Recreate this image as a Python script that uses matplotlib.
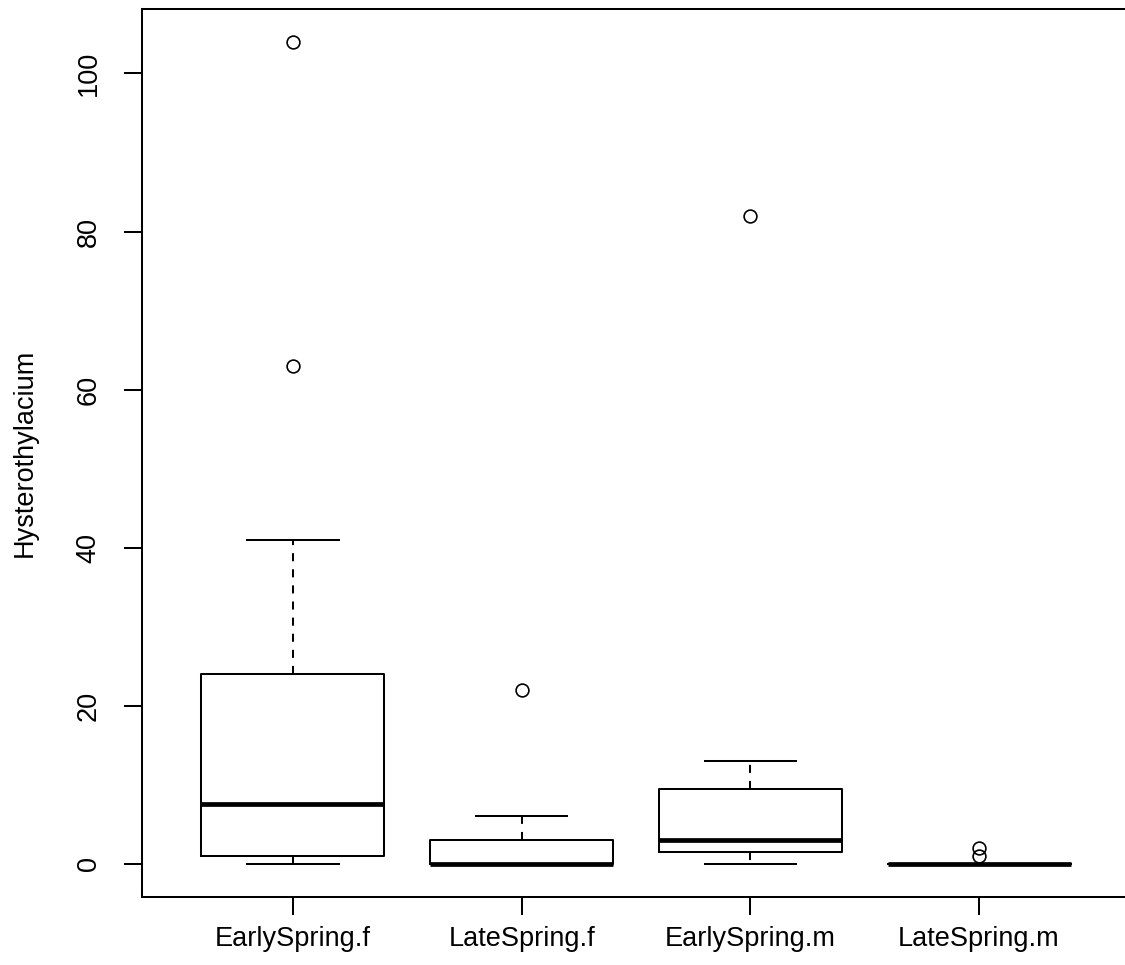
import matplotlib
matplotlib.use("Agg")
import matplotlib.pyplot as plt

categories = ['EarlySpring.f', 'LateSpring.f', 'EarlySpring.m', 'LateSpring.m']
whislo = [0, 0, 0, 0]
q1 = [1, 0, 1.5, 0]
med = [7.5, 0, 3, 0]
q3 = [24, 3, 9.5, 0]
whishi = [41, 6, 13, 0]
fliers = [[63, 104], [22], [82], [1, 2]]
yticks = [0, 20, 40, 60, 80, 100]
ylabel = 'Hysterothylacium'

plt.rcParams['font.family'] = ['Liberation Sans', 'DejaVu Sans']

W, H = 1125, 965
fig = plt.figure(figsize=(W / 100, H / 100), dpi=100)
left, right, top, bottom = 142, 1130, 9, 896.5
ax = fig.add_axes([left / W, (H - bottom) / H, (right - left) / W, (bottom - top) / H])

stats = []
for i, c in enumerate(categories):
    stats.append(dict(label=c, whislo=whislo[i], q1=q1[i], med=med[i],
                      q3=q3[i], whishi=whishi[i], fliers=fliers[i]))

lw = 1.45
ax.bxp(stats, positions=range(1, len(categories) + 1), widths=0.8,
       boxprops=dict(color='black', linewidth=lw),
       whiskerprops=dict(color='black', linewidth=lw, linestyle=(0, (4, 4))),
       capprops=dict(color='black', linewidth=lw),
       medianprops=dict(color='black', linewidth=3.4, solid_capstyle='butt'),
       flierprops=dict(marker='o', markerfacecolor='none', markeredgecolor='black',
                       markersize=9.2, markeredgewidth=1.2, linestyle='none'),
       capwidths=0.4, showfliers=True)

fs = 19.5
ax.set_xlim(0.34, 4.66)
ax.set_ylim(-4.16, 108.16)
ax.set_yticks(yticks)
ax.set_yticklabels([str(v) for v in yticks], rotation=90, va='center')
ax.set_xticks(range(1, len(categories) + 1))
ax.set_xticklabels(categories)
ax.tick_params(axis='both', length=13, width=lw, labelsize=fs, color='black')
ax.tick_params(axis='y', pad=16)
ax.tick_params(axis='x', pad=8)
for s in ax.spines.values():
    s.set_linewidth(lw)
ax.set_ylabel(ylabel, fontsize=fs, labelpad=27)

fig.savefig('out.png', dpi=100)
